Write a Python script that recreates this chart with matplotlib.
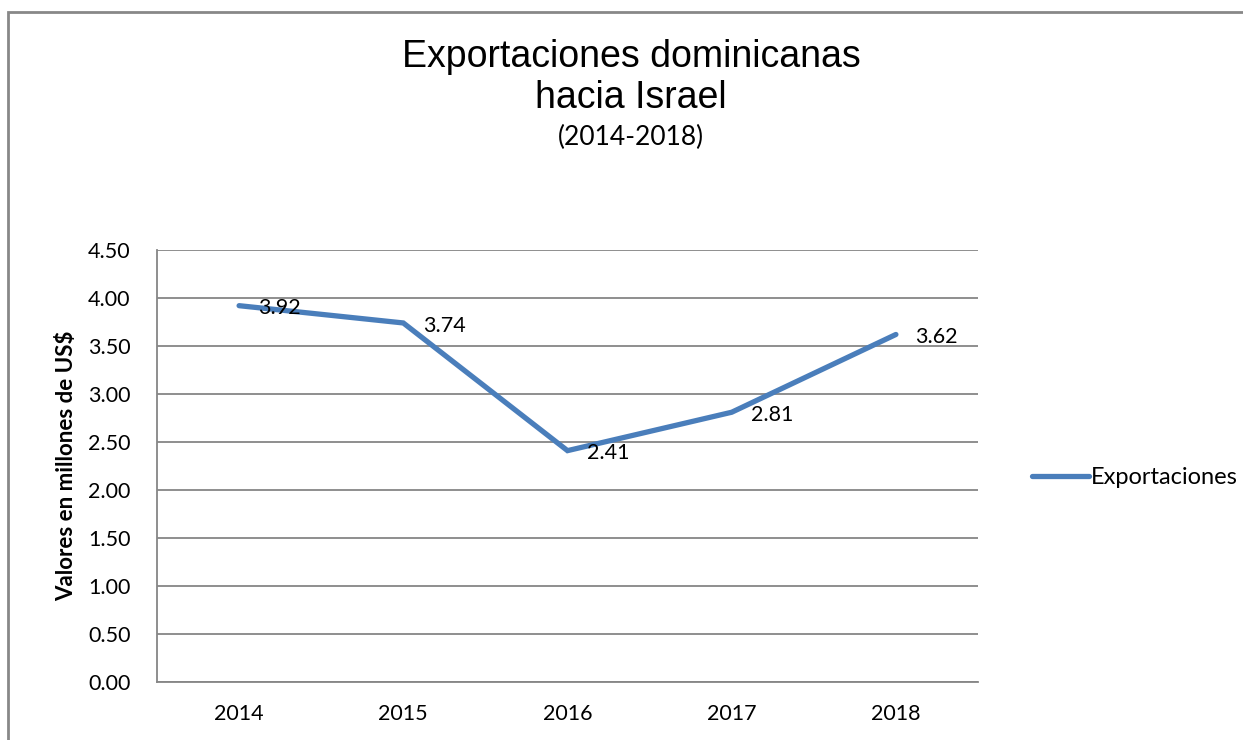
import matplotlib.pyplot as plt
from matplotlib.patches import Rectangle

# data
years = ['2014', '2015', '2016', '2017', '2018']
exportaciones = [3.92, 3.74, 2.41, 2.81, 3.62]
yticks = [0.0, 0.5, 1.0, 1.5, 2.0, 2.5, 3.0, 3.5, 4.0, 4.5]

body_font = 'Lato'
title_font = 'Liberation Sans'
line_color = '#4A7EBB'
grid_color = '#868686'
fs = 15.5

fig = plt.figure(figsize=(12.43, 7.40), dpi=100)
W, H = 1243, 740

# outer chart border (Excel style), right and bottom edges fall off the picture
fig.patches.append(Rectangle((8 / W, -0.2), 1.2, 1.2 - 12 / H, transform=fig.transFigure,
                             fill=False, edgecolor='#888888', linewidth=2.0))

ax = fig.add_axes([157 / W, 1 - 682 / H, (978 - 157) / W, (682 - 250) / H])

x = list(range(len(years)))
ax.plot(x, exportaciones, color=line_color, linewidth=3.8, solid_capstyle='round',
        solid_joinstyle='miter', label='Exportaciones', zorder=3)

# data labels to the right of each point
for xi, v in zip(x, exportaciones):
    ax.annotate(f'{v:.2f}', (xi, v), xytext=(14, -2), textcoords='offset points',
                ha='left', va='center', fontsize=fs, family=body_font, zorder=4)

ax.set_xlim(-0.5, len(years) - 0.5)
ax.set_ylim(0, 4.5)
ax.set_xticks(x)
ax.set_xticklabels(years, fontsize=fs, family=body_font)
ax.set_yticks(yticks)
ax.set_yticklabels([f'{t:.2f}' for t in yticks], fontsize=fs, family=body_font)
ax.tick_params(axis='y', length=0, pad=19)
ax.tick_params(axis='x', length=0, pad=16)
ax.yaxis.grid(True, color=grid_color, linewidth=1.3)
ax.set_axisbelow(True)
for s in ['top', 'right']:
    ax.spines[s].set_visible(False)
for s in ['left', 'bottom']:
    ax.spines[s].set_color(grid_color)
    ax.spines[s].set_linewidth(1.3)

ax.set_ylabel('Valores en millones de US$', fontsize=16, fontweight='bold',
              family=body_font, labelpad=8)

leg = ax.legend(loc='center left', bbox_to_anchor=(1032 / W, 1 - 478 / H),
                bbox_transform=fig.transFigure, frameon=False,
                prop={'family': body_font, 'size': 17}, handlelength=2.4,
                handletextpad=0.1, borderaxespad=0, borderpad=0)

fig.text(631 / W, 1 - 57 / H, 'Exportaciones dominicanas', ha='center', va='center',
         fontsize=27, family=title_font)
fig.text(631 / W, 1 - 98 / H, 'hacia Israel', ha='center', va='center',
         fontsize=27, family=title_font)
fig.text(631 / W, 1 - 137 / H, '(2014-2018)', ha='center', va='center',
         fontsize=19, family=body_font)

fig.savefig('out.png', dpi=100, facecolor='white')
